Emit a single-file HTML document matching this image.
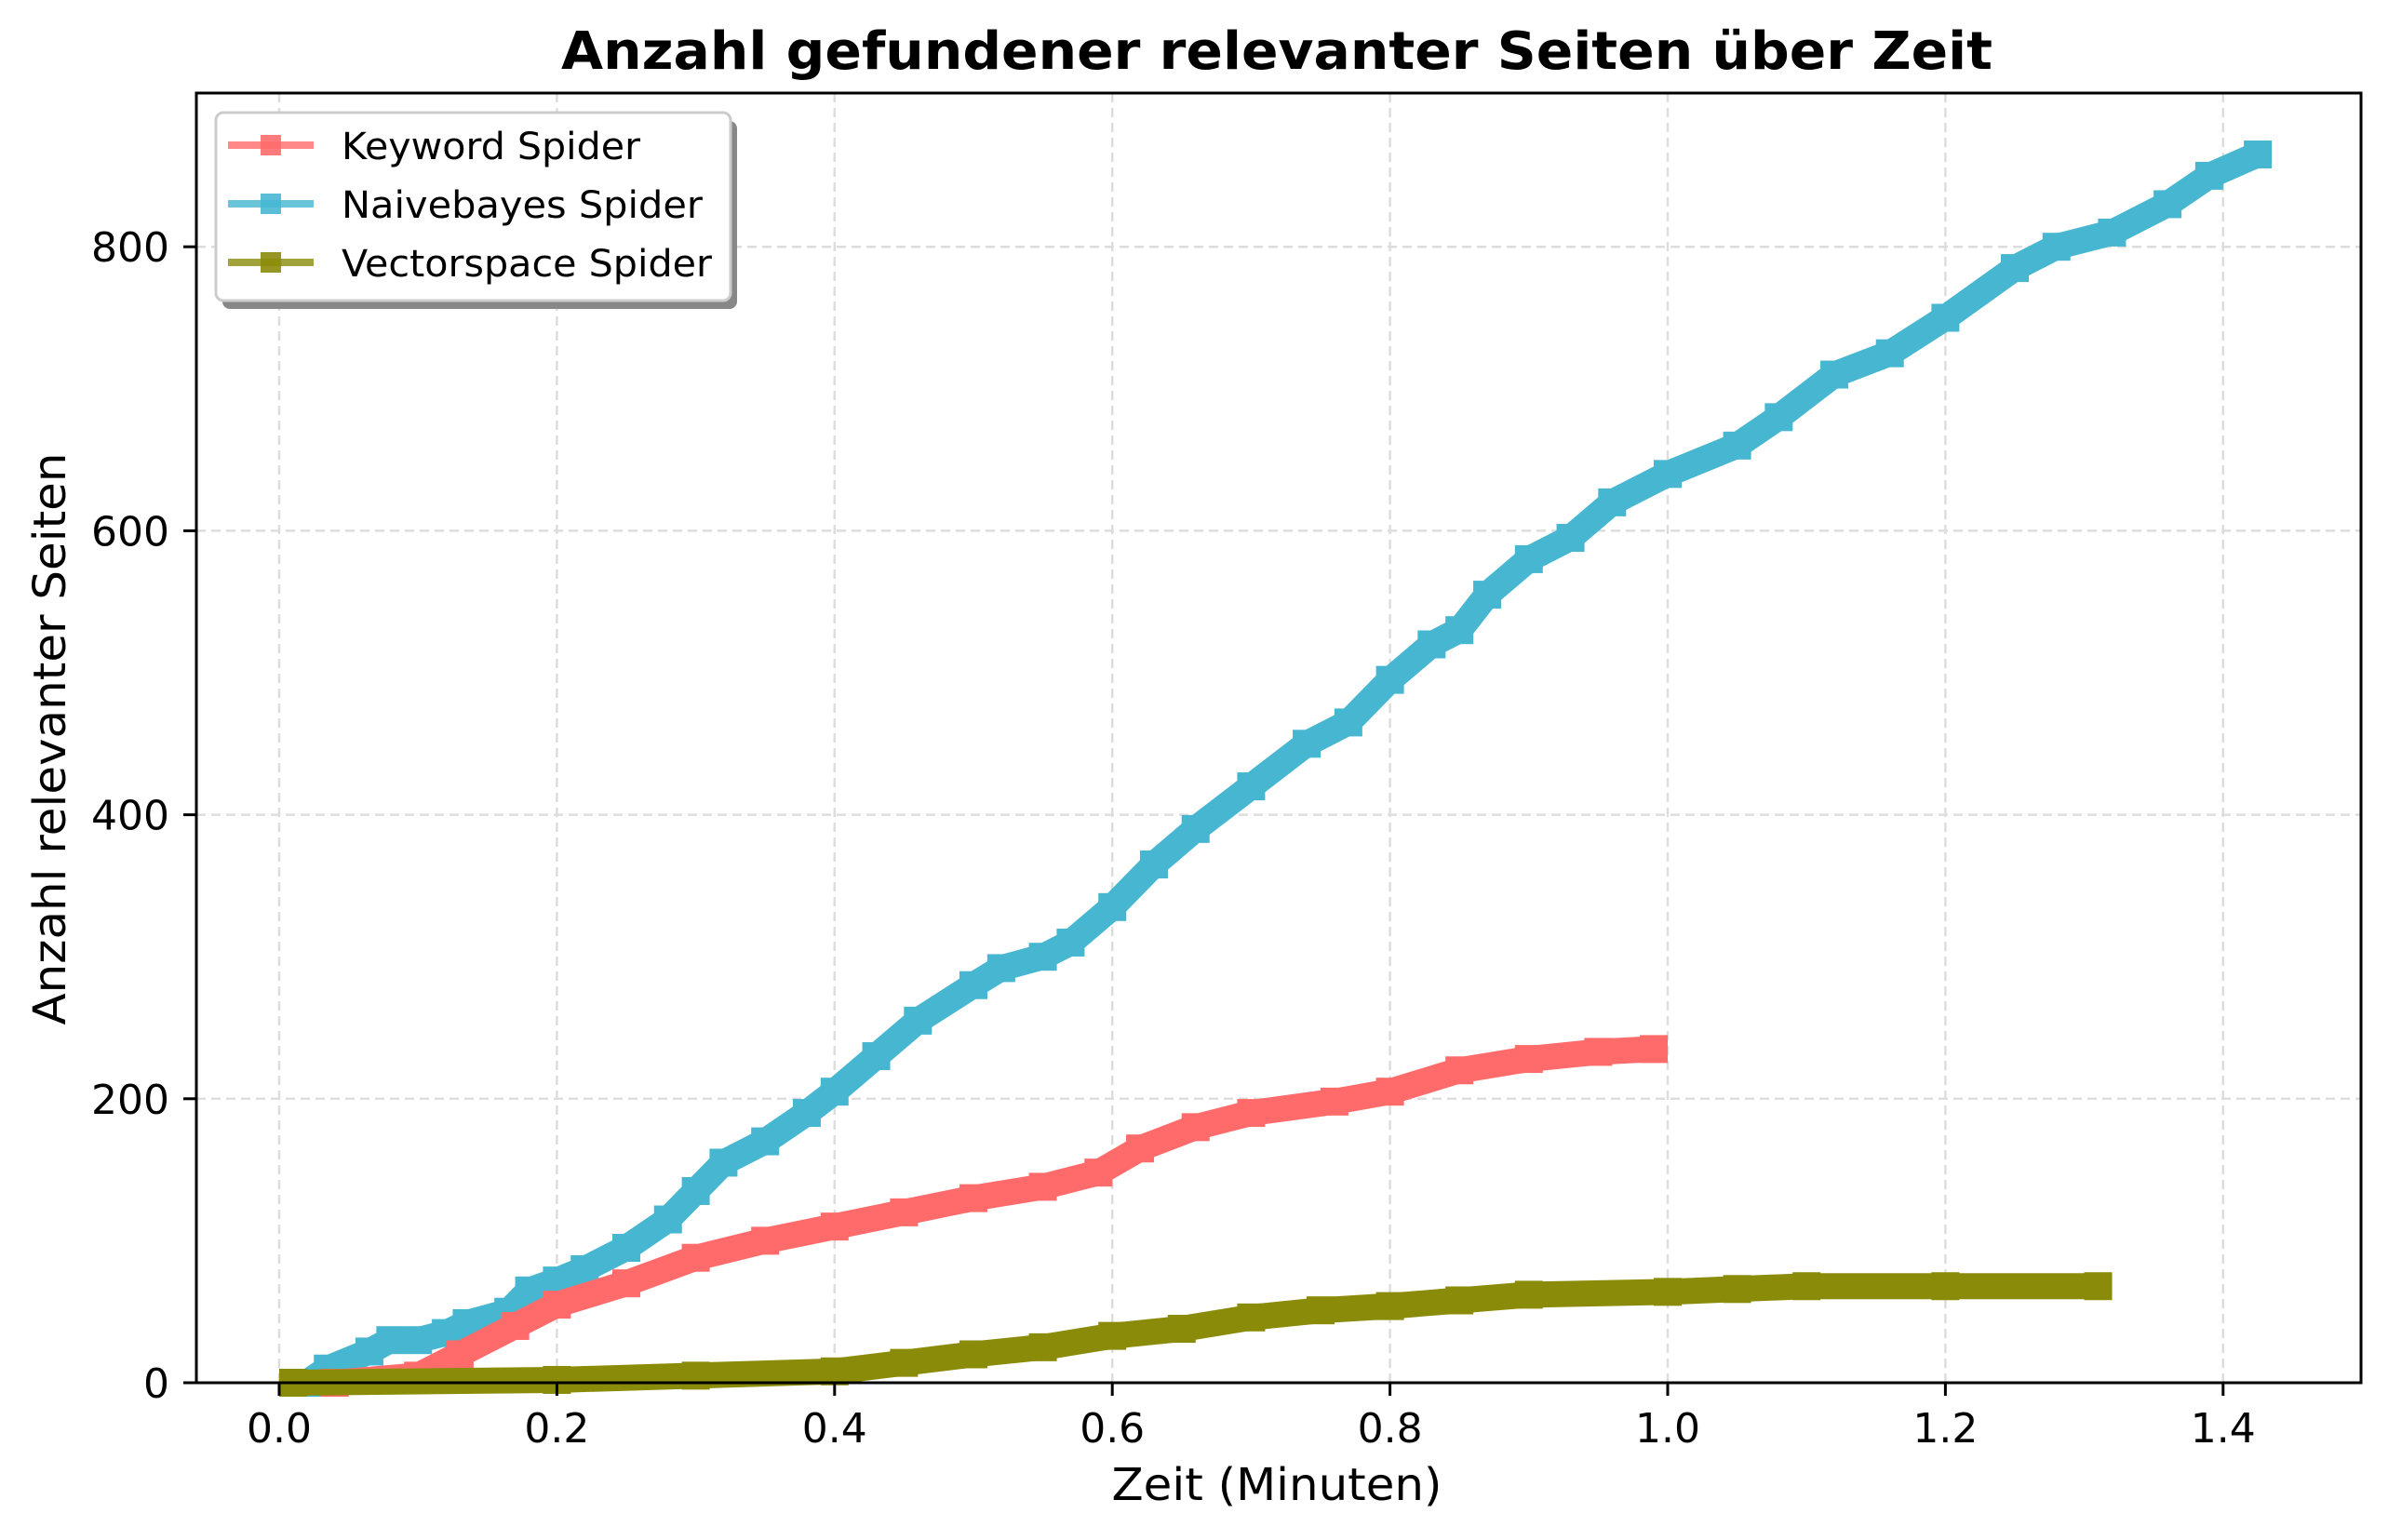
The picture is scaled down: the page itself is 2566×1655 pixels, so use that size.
<!DOCTYPE html>
<html><head><meta charset="utf-8"><style>
body{margin:0;background:#fff;}
svg{display:block;font-family:"DejaVu Sans","Liberation Sans",sans-serif;}
</style></head><body>
<svg id="chart" width="2566" height="1655" viewBox="0 0 2566 1655" xmlns="http://www.w3.org/2000/svg">
<rect width="2566" height="1655" fill="#fff"/>
<text x="1372" y="74" text-anchor="middle" font-size="56" font-weight="bold" textLength="1538" lengthAdjust="spacingAndGlyphs">Anzahl gefundener relevanter Seiten über Zeit</text>
<g id="grid"></g>
<g id="series"></g>
<rect x="211" y="100" width="2326" height="1386" fill="none" stroke="#000" stroke-width="3"/>
<g id="ticks"></g>
<text x="1372" y="1612" text-anchor="middle" font-size="48" textLength="355" lengthAdjust="spacingAndGlyphs">Zeit (Minuten)</text>
<text transform="translate(70,794) rotate(-90)" text-anchor="middle" font-size="48" textLength="615" lengthAdjust="spacingAndGlyphs">Anzahl relevanter Seiten</text>
<g>
<rect x="239" y="130" width="553" height="202" rx="8" fill="#888"/>
<rect x="232" y="121" width="553" height="202" rx="8" fill="#fff" stroke="#ccc" stroke-width="3"/>
<g id="legend-items"></g>
</g>
</svg>
<script>
const xTicks=[0.0,0.2,0.4,0.6,0.8,1.0,1.2,1.4];
const xTickLabels=["0.0","0.2","0.4","0.6","0.8","1.0","1.2","1.4"];
const yTicks=[0,200,400,600,800];
const yTickLabels=["0","200","400","600","800"];
const seriesNames=["Keyword Spider","Naivebayes Spider","Vectorspace Spider"];
const naiveT=[0.02,0.035,0.065,0.08,0.1,0.12,0.135,0.165,0.18,0.2,0.22,0.25,0.28,0.3,0.32,0.35,0.38,0.4,0.43,0.46,0.5,0.52,0.55,0.57,0.6,0.63,0.66,0.7,0.74,0.77,0.8,0.83,0.85,0.87,0.9,0.93,0.96,1.0,1.05,1.08,1.12,1.16,1.2,1.25,1.28,1.32,1.36,1.39,1.425];
const naiveV=[0,10,22,30,30,35,42,50,65,72,80,95,115,135,155,170,190,205,230,255,280,292,300,310,335,365,390,420,450,465,495,520,530,555,580,595,620,640,660,680,710,725,750,785,800,810,830,850,865];
const keywordT=[0.04,0.1,0.13,0.17,0.2,0.25,0.3,0.35,0.4,0.45,0.5,0.55,0.59,0.62,0.66,0.7,0.76,0.8,0.85,0.9,0.95,0.99];
const keywordV=[0,5,20,40,55,70,88,100,110,120,130,138,148,165,180,190,198,205,220,228,233,235];
const vectorT=[0.01,0.2,0.3,0.4,0.45,0.5,0.55,0.6,0.65,0.7,0.75,0.8,0.85,0.9,1.0,1.05,1.1,1.2,1.31];
const vectorV=[0,2,5,8,14,20,25,33,38,46,51,54,58,62,64,66,68,68,68];
const legendTextWidths=[321,388,398];

const NS="http://www.w3.org/2000/svg";
const X0=300,XS=1492,Y0=1486,YS=1.526;
function sx(v){return X0+v*XS;}
function sy(v){return Y0-v*YS;}
function mk(tag,attrs,parent){const e=document.createElementNS(NS,tag);for(const k in attrs)e.setAttribute(k,attrs[k]);parent.appendChild(e);return e;}
const grid=document.getElementById('grid'),ticks=document.getElementById('ticks'),ser=document.getElementById('series'),leg=document.getElementById('legend-items');
xTicks.forEach((t,i)=>{
  const g=mk('line',{x1:sx(t),x2:sx(t),y1:100,y2:1486,stroke:'#ddd','stroke-width':2.5,'stroke-dasharray':'10,6'},grid);
  
  
  const tk=mk('line',{x1:sx(t),x2:sx(t),y1:1486,y2:1500,stroke:'#000','stroke-width':3},ticks);
  
  
  const tl=mk('text',{x:sx(t),y:1550,'text-anchor':'middle','font-size':44},ticks);
  tl.textContent=xTickLabels[i];
  
  
});
yTicks.forEach((t,i)=>{
  const g=mk('line',{x1:211,x2:2537,y1:sy(t),y2:sy(t),stroke:'#ddd','stroke-width':2.5,'stroke-dasharray':'10,6'},grid);
  
  
  const tk=mk('line',{x1:197,x2:211,y1:sy(t),y2:sy(t),stroke:'#000','stroke-width':3},ticks);
  
  
  const tl=mk('text',{x:182,y:sy(t)+16,'text-anchor':'end','font-size':44},ticks);
  tl.textContent=yTickLabels[i];
  
  
});
function drawSeries(T,V,color,name){
  const g=mk('g',{},ser);
  
  
  const pts=T.map((t,i)=>sx(t)+','+sy(V[i])).join(' ');
  const pl=mk('polyline',{points:pts,fill:'none',stroke:color,'stroke-width':28,'stroke-linejoin':'round'},g);
  
  
  T.forEach((t,i)=>{
    const r=mk('rect',{x:sx(t)-15,y:sy(V[i])-15,width:30,height:30,fill:color},g);
    
    
  });
}
drawSeries(naiveT,naiveV,'#47b7d1','naivebayes-series');
drawSeries(keywordT,keywordV,'#ff6b6b','keyword-series');
drawSeries(vectorT,vectorV,'#8b8b0a','vectorspace-series');
const legColors=['#ff6b6b','#47b7d1','#8b8b0a'];
seriesNames.forEach((n,i)=>{
  const y=156+i*63;
  const l=mk('line',{x1:245,x2:337,y1:y,y2:y,stroke:legColors[i],'stroke-width':8,opacity:0.8},leg);
  
  
  const r=mk('rect',{x:280,y:y-11,width:22,height:22,fill:legColors[i],opacity:0.9},leg);
  
  
  const tx=mk('text',{x:367,y:y+15,'font-size':40,textLength:legendTextWidths[i],lengthAdjust:'spacingAndGlyphs'},leg);
  tx.textContent=n;
  
  
});
</script>
</body></html>
